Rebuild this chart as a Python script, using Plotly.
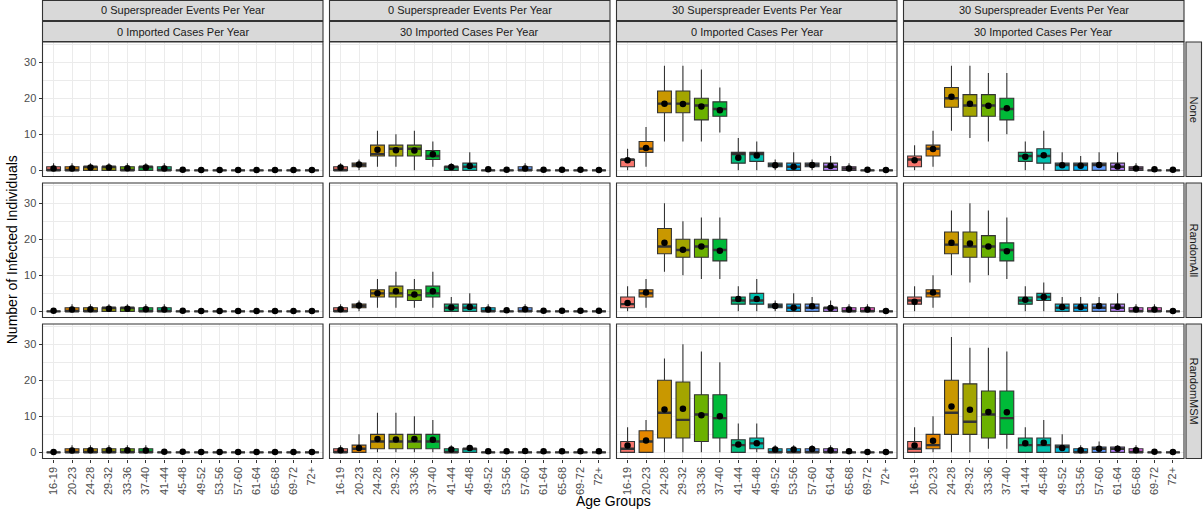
import plotly.graph_objects as go

# ---------------------------------------------------------------- data
AGE_GROUPS = ["16-19", "20-23", "24-28", "29-32", "33-36", "37-40", "41-44", "45-48",
              "49-52", "53-56", "57-60", "61-64", "65-68", "69-72", "72+"]
AGE_COLORS = ["#F8766D", "#E58700", "#C99800", "#A3A500", "#6BB100", "#00BA38", "#00BF7D",
              "#00C0AF", "#00BCD8", "#00B0F6", "#619CFF", "#B983FF", "#E76BF3", "#FD61D1",
              "#FF67A4"]

SUPERSPREADER_LABELS = ["0 Superspreader Events Per Year", "0 Superspreader Events Per Year",
                        "30 Superspreader Events Per Year", "30 Superspreader Events Per Year"]
IMPORTED_LABELS = ["0 Imported Cases Per Year", "30 Imported Cases Per Year",
                   "0 Imported Cases Per Year", "30 Imported Cases Per Year"]
SCENARIOS = ["None", "RandomAll", "RandomMSM"]

# each row: (lower whisker, q1, median, q3, upper whisker, mean), one per age group
none_ss0_imp0 = [
    (0, 0, 0, 1, 2, 0.5), (0, 0, 0, 1, 2, 0.5), (0, 0, 1, 1, 2, 0.8), (0, 0, 1, 1, 2, 0.8),
    (0, 0, 0, 1, 2, 0.6), (0, 0, 1, 1, 2, 0.8), (0, 0, 0, 1, 2, 0.5), (0, 0, 0, 0, 0, 0.2),
    (0, 0, 0, 0, 0, 0.1), (0, 0, 0, 0, 0, 0.1), (0, 0, 0, 0, 0, 0.1), (0, 0, 0, 0, 0, 0.1),
    (0, 0, 0, 0, 0, 0.1), (0, 0, 0, 0, 0, 0.1), (0, 0, 0, 0, 0, 0.1)]
none_ss0_imp30 = [
    (0, 0, 0, 1, 2, 0.8), (0, 1, 1.5, 2, 3, 1.6), (1, 4, 4.5, 7, 11, 5.7), (1, 4, 6, 7, 10, 5.6),
    (0, 4, 6, 7, 11, 5.5), (1, 3, 4, 5.5, 8, 4.5), (0, 0, 1, 1, 2, 0.9), (0, 0, 1, 2, 5, 1.2),
    (0, 0, 0, 0, 0, 0.3), (0, 0, 0, 0, 0, 0.2), (0, 0, 0, 1, 2, 0.5), (0, 0, 0, 0, 0, 0.2),
    (0, 0, 0, 0, 0, 0.2), (0, 0, 0, 0, 0, 0.2), (0, 0, 0, 0, 0, 0.1)]
none_ss30_imp0 = [
    (0, 1, 3, 3, 6, 2.8), (1, 5, 6, 8, 12, 6.2), (8, 16, 18.5, 22, 29, 18.5),
    (8, 16, 18.5, 22, 29, 18.4), (8, 14, 18, 20, 28, 17.7), (10.5, 15, 17, 19, 23, 16.7),
    (0, 2, 4.5, 5, 9, 3.5), (0, 2.5, 4.5, 5, 8, 4.1), (0, 1, 1.5, 2, 3, 1.4), (0, 0, 1, 2, 5, 1.0),
    (0, 1, 1.5, 2, 3, 1.5), (0, 0, 1, 2, 4, 1.2), (0, 0, 0.5, 1, 2, 0.5), (0, 0, 0, 0, 0, 0.2),
    (0, 0, 0, 0, 0, 0.1)]
none_ss30_imp30 = [
    (0, 1, 3, 4, 7, 2.8), (1, 4, 6, 7, 11, 5.9), (11, 17.5, 20, 23, 29, 20.4),
    (9, 15, 18, 21, 29, 18.5), (8, 15, 18, 21, 27, 17.9), (10, 14, 17, 20, 27, 17.2),
    (0, 2.5, 4, 5, 8, 3.8), (0, 2, 4, 6, 11, 4.2), (0, 0, 1.5, 2, 5, 1.4), (0, 0, 1.5, 2, 4, 1.3),
    (0, 0, 1.5, 2, 5, 1.5), (0, 0, 1, 2, 5, 1.1), (0, 0, 0.5, 1, 2, 0.5), (0, 0, 0, 0, 0, 0.3),
    (0, 0, 0, 0, 0, 0.2)]

randomall_ss0_imp0 = [
    (0, 0, 0, 0, 0, 0.2), (0, 0, 0, 1, 2, 0.5), (0, 0, 0, 1, 2, 0.6), (0, 0, 1, 1, 2, 0.7),
    (0, 0, 1, 1, 2, 0.7), (0, 0, 0, 1, 2, 0.6), (0, 0, 0, 1, 2, 0.5), (0, 0, 0, 0, 0, 0.2),
    (0, 0, 0, 0, 0, 0.1), (0, 0, 0, 0, 0, 0.1), (0, 0, 0, 0, 0, 0.1), (0, 0, 0, 0, 0, 0.1),
    (0, 0, 0, 0, 0, 0.1), (0, 0, 0, 0, 0, 0.1), (0, 0, 0, 0, 0, 0.1)]
randomall_ss0_imp30 = [
    (0, 0, 0, 1, 2, 0.6), (0, 1, 1.5, 2, 3, 1.6), (1, 4, 5, 6, 9, 5.0), (1, 4, 5, 7, 11, 5.6),
    (1, 3, 4.5, 6, 9, 4.7), (1, 4, 5, 7, 11, 5.6), (0, 0, 1, 2, 4, 1.1), (0, 0, 1, 2, 5, 1.2),
    (0, 0, 0, 1, 2, 0.5), (0, 0, 0, 0, 0, 0.3), (0, 0, 0, 1, 2, 0.6), (0, 0, 0, 0, 0, 0.2),
    (0, 0, 0, 0, 0, 0.2), (0, 0, 0, 0, 0, 0.2), (0, 0, 0, 0, 0, 0.2)]
randomall_ss30_imp0 = [
    (0, 1, 2, 4, 7, 2.3), (1, 4, 5, 6, 9, 5.2), (11, 16, 18, 23, 30, 19.0),
    (10, 15, 17, 20, 25, 17.1), (9, 15, 18, 20, 26, 18.0), (9, 14, 17, 20, 26, 16.8),
    (0, 2, 3, 4, 7, 3.4), (0, 2, 3, 5, 9, 3.4), (0, 1, 1.5, 2, 3, 1.5), (0, 0, 1, 2, 5, 1.0),
    (0, 0, 1, 2, 4, 1.4), (0, 0, 1, 1, 3, 0.9), (0, 0, 0, 1, 2, 0.5), (0, 0, 0, 1, 2, 0.5),
    (0, 0, 0, 0, 0, 0.1)]
randomall_ss30_imp30 = [
    (0, 2, 3, 4, 7, 2.7), (1, 4, 5, 6, 10, 5.2), (10, 16, 18.5, 22, 28, 19.0),
    (8, 15, 18, 22, 30, 18.8), (10, 15, 18, 21, 28, 18.0), (9, 14, 17, 19, 26, 16.7),
    (0, 2, 3, 4, 7, 3.2), (0, 3, 4, 5, 8, 4.0), (0, 0, 1, 2, 4, 1.2), (0, 0, 1, 2, 4, 1.2),
    (0, 0, 1, 2, 4, 1.5), (0, 0, 1, 2, 5, 1.3), (0, 0, 0, 1, 2, 0.5), (0, 0, 0, 1, 2, 0.5),
    (0, 0, 0, 0, 0, 0.1)]

randommsm_ss0_imp0 = [
    (0, 0, 0, 0, 0, 0.1), (0, 0, 0, 1, 2, 0.5), (0, 0, 0, 1, 2, 0.6), (0, 0, 0, 1, 2, 0.6),
    (0, 0, 0, 1, 2, 0.6), (0, 0, 0, 1, 2, 0.5), (0, 0, 0, 0, 0, 0.2), (0, 0, 0, 0, 0, 0.2),
    (0, 0, 0, 0, 0, 0.1), (0, 0, 0, 0, 0, 0.1), (0, 0, 0, 0, 0, 0.1), (0, 0, 0, 0, 0, 0.1),
    (0, 0, 0, 0, 0, 0.1), (0, 0, 0, 0, 0, 0.1), (0, 0, 0, 0, 0, 0.1)]
randommsm_ss0_imp30 = [
    (0, 0, 0, 1, 2, 0.6), (0, 0, 1, 2, 5, 1.2), (0, 1, 3, 5, 11, 3.7), (0, 1, 3, 5, 11, 3.6),
    (0, 1, 3, 5, 10, 3.7), (0, 1, 3, 5, 9, 3.5), (0, 0, 0, 1, 2, 0.8), (0, 0, 1, 1, 2, 1.2),
    (0, 0, 0, 0, 0, 0.3), (0, 0, 0, 0, 0, 0.3), (0, 0, 0, 0, 0, 0.4), (0, 0, 0, 0, 0, 0.3),
    (0, 0, 0, 0, 0, 0.3), (0, 0, 0, 0, 0, 0.3), (0, 0, 0, 0, 0, 0.3)]
randommsm_ss30_imp0 = [
    (0, 0, 1, 3, 7, 1.9), (0, 0, 3, 6, 9, 3.3), (0, 4, 11, 20, 26, 11.9), (0, 4, 9, 19.5, 30, 12.1),
    (0, 3, 10.5, 16, 28, 10.3), (0, 4, 9.5, 16, 25, 10.0), (0, 0, 2, 3.5, 8, 2.2),
    (0, 1, 2.5, 4, 8, 2.5), (0, 0, 0, 1, 2, 0.8), (0, 0, 0, 1, 2, 0.8), (0, 0, 0, 1, 2, 0.9),
    (0, 0, 0, 1, 2, 0.6), (0, 0, 0, 0, 0, 0.3), (0, 0, 0, 0, 0, 0.1), (0, 0, 0, 0, 0, 0.1)]
randommsm_ss30_imp30 = [
    (0, 0, 1, 3, 7, 1.9), (0, 1, 2, 5, 10, 3.2), (0, 5, 11, 20, 32, 12.7), (0, 5, 8.5, 19, 29, 11.8),
    (1, 4, 10.5, 17, 29, 11.2), (1, 5, 9.5, 17, 28, 11.1), (0, 0, 2, 4, 7, 2.5), (0, 0, 2, 4, 9, 2.7),
    (0, 0, 1.5, 2, 5, 1.2), (0, 0, 0, 1, 2, 0.6), (0, 0, 1, 1.5, 3, 1.0), (0, 0, 1, 1.5, 2, 1.0),
    (0, 0, 0, 1, 2, 0.6), (0, 0, 0, 0, 0, 0.2), (0, 0, 0, 0, 0, 0.1)]

PANELS = [
    [none_ss0_imp0, none_ss0_imp30, none_ss30_imp0, none_ss30_imp30],
    [randomall_ss0_imp0, randomall_ss0_imp30, randomall_ss30_imp0, randomall_ss30_imp30],
    [randommsm_ss0_imp0, randommsm_ss0_imp30, randommsm_ss30_imp0, randommsm_ss30_imp30],
]

# ---------------------------------------------------------------- layout geometry (pixels)
W, H = 1203, 511
COL_LEFT = [42.5, 329.5, 616.5, 903.5]
COL_W = 280.5
ROW_TOP = [42.0, 183.0, 324.0]
ROW_H = 134.5
STRIP_RIGHT = (1186.0, 1201.5)
STRIP_TOP = [(0.5, 20.5), (21.5, 41.5)]

FONT = "Liberation Sans, Arial, Helvetica, sans-serif"
EDGE = "#333333"
GRID = "#EBEBEB"
TICK_TEXT = "#4D4D4D"
BOX_W = 0.75


def px_x(p):
    return p / W


def px_y(p):
    return 1 - p / H


fig = go.Figure()
layout = dict(
    width=W, height=H, autosize=False,
    margin=dict(l=0, r=0, t=0, b=0),
    paper_bgcolor="white", plot_bgcolor="white",
    boxmode="overlay", showlegend=False,
    font=dict(family=FONT, color="#1A1A1A"),
)
shapes, annotations = [], []
positions = list(range(1, len(AGE_GROUPS) + 1))

for r in range(3):
    for c in range(4):
        n = r * 4 + c + 1
        xa = "x" if n == 1 else f"x{n}"
        ya = "y" if n == 1 else f"y{n}"
        xkey = "xaxis" if n == 1 else f"xaxis{n}"
        ykey = "yaxis" if n == 1 else f"yaxis{n}"
        bottom = r == 2
        left = c == 0
        layout[xkey] = dict(
            domain=[px_x(COL_LEFT[c]), px_x(COL_LEFT[c] + COL_W)],
            anchor=ya, range=[0.4, len(AGE_GROUPS) + 0.6],
            tickmode="array", tickvals=positions, ticktext=AGE_GROUPS,
            showticklabels=bottom, ticks="outside" if bottom else "",
            ticklen=3, tickwidth=1, tickcolor=EDGE, tickangle=-90,
            tickfont=dict(size=11, color=TICK_TEXT, family=FONT),
            showgrid=True, gridcolor=GRID, gridwidth=1.1,
            zeroline=False, showline=False, fixedrange=True,
        )
        layout[ykey] = dict(
            domain=[px_y(ROW_TOP[r] + ROW_H), px_y(ROW_TOP[r])],
            anchor=xa, range=[-1.7, 35.6],
            tickmode="array", tickvals=[0, 10, 20, 30],
            showticklabels=left, ticks="outside" if left else "",
            ticklen=3, tickwidth=1, tickcolor=EDGE,
            tickfont=dict(size=11, color=TICK_TEXT, family=FONT),
            showgrid=True, gridcolor=GRID, gridwidth=1.1,
            minor=dict(tickvals=[5, 15, 25, 35], showgrid=True, gridcolor=GRID, gridwidth=0.6),
            zeroline=False, showline=False, fixedrange=True,
        )

        stats = PANELS[r][c]
        for k, (lo, q1, med, q3, hi, mean) in enumerate(stats):
            fig.add_trace(go.Box(
                x=[positions[k]], q1=[q1], median=[med], q3=[q3],
                lowerfence=[lo], upperfence=[hi],
                fillcolor=AGE_COLORS[k], line=dict(color=EDGE, width=1.1),
                whiskerwidth=0, width=BOX_W, boxpoints=False,
                xaxis=xa, yaxis=ya, hoverinfo="skip",
            ))

        # heavier median bars
        mx, my = [], []
        for k, row in enumerate(stats):
            mx += [positions[k] - BOX_W / 2, positions[k] + BOX_W / 2, None]
            my += [row[2], row[2], None]
        fig.add_trace(go.Scatter(x=mx, y=my, mode="lines",
                                 line=dict(color=EDGE, width=2.4),
                                 xaxis=xa, yaxis=ya, hoverinfo="skip"))
        # means
        fig.add_trace(go.Scatter(x=positions, y=[row[5] for row in stats], mode="markers",
                                 marker=dict(color="black", size=6.5),
                                 xaxis=xa, yaxis=ya, hoverinfo="skip"))

        # panel border
        shapes.append(dict(type="rect", xref=f"{xa} domain", yref=f"{ya} domain",
                           x0=0, x1=1, y0=0, y1=1, line=dict(color=EDGE, width=1.1),
                           fillcolor="rgba(0,0,0,0)", layer="above"))

# top strips
for c in range(4):
    x0, x1 = px_x(COL_LEFT[c]), px_x(COL_LEFT[c] + COL_W)
    for (t0, t1), label in zip(STRIP_TOP, [SUPERSPREADER_LABELS[c], IMPORTED_LABELS[c]]):
        shapes.append(dict(type="rect", xref="paper", yref="paper",
                           x0=x0, x1=x1, y0=px_y(t1), y1=px_y(t0),
                           fillcolor="#D9D9D9", line=dict(color=EDGE, width=1.1)))
        annotations.append(dict(xref="paper", yref="paper", x=(x0 + x1) / 2,
                                y=px_y((t0 + t1) / 2), text=label, showarrow=False,
                                xanchor="center", yanchor="middle",
                                font=dict(size=11, color="#1A1A1A", family=FONT)))

# right strips
for r in range(3):
    y0, y1 = px_y(ROW_TOP[r] + ROW_H), px_y(ROW_TOP[r])
    shapes.append(dict(type="rect", xref="paper", yref="paper",
                       x0=px_x(STRIP_RIGHT[0]), x1=px_x(STRIP_RIGHT[1]), y0=y0, y1=y1,
                       fillcolor="#D9D9D9", line=dict(color=EDGE, width=1.1)))
    annotations.append(dict(xref="paper", yref="paper",
                            x=px_x(sum(STRIP_RIGHT) / 2), y=(y0 + y1) / 2,
                            text=SCENARIOS[r], showarrow=False, textangle=90,
                            xanchor="center", yanchor="middle",
                            font=dict(size=11, color="#1A1A1A", family=FONT)))

# axis titles
annotations.append(dict(xref="paper", yref="paper", x=px_x(12), y=px_y((ROW_TOP[0] + ROW_TOP[2] + ROW_H) / 2),
                        text="Number of Infected Individuals", showarrow=False, textangle=-90,
                        xanchor="center", yanchor="middle",
                        font=dict(size=14, color="black", family=FONT)))
annotations.append(dict(xref="paper", yref="paper", x=px_x((COL_LEFT[0] + COL_LEFT[3] + COL_W) / 2),
                        y=px_y(501), text="Age Groups", showarrow=False,
                        xanchor="center", yanchor="middle",
                        font=dict(size=14, color="black", family=FONT)))

layout["shapes"] = shapes
layout["annotations"] = annotations
fig.update_layout(**layout)
fig.write_html("out.html")
